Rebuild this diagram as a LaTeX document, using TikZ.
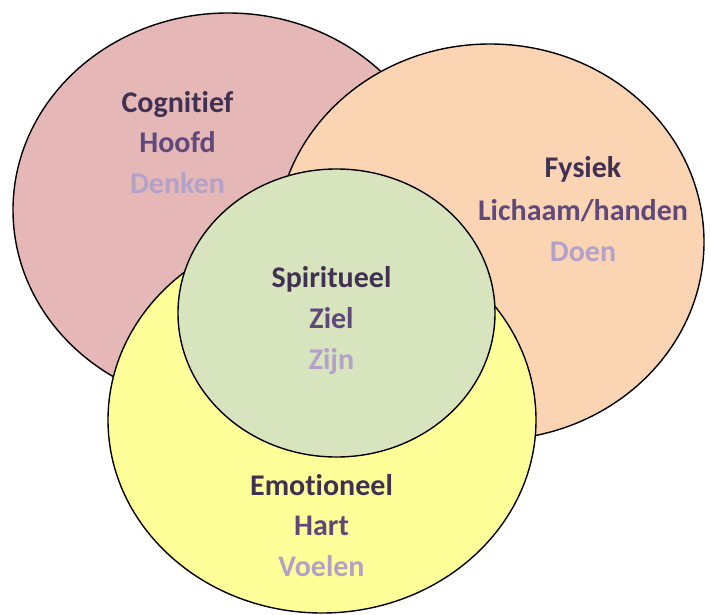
\documentclass[tikz,border=0pt]{standalone}
\usepackage{fontspec}
\setmainfont[Ligatures=NoCommon]{Carlito}
\definecolor{redfill}{HTML}{E5B7B7}
\definecolor{orangefill}{HTML}{FBD4B4}
\definecolor{yellowfill}{HTML}{FFFF99}
\definecolor{greenfill}{HTML}{D7E4BD}
\definecolor{txtdark}{HTML}{403152}
\definecolor{txtmid}{HTML}{5F497A}
\definecolor{txtlight}{HTML}{B3A2C7}
\begin{document}
\begin{tikzpicture}[x=1bp,y=-1bp,
  blob/.style={draw=black,line width=1.4bp},
  lbl/.style={anchor=base,inner sep=0pt,font=\fontsize{30bp}{36bp}\selectfont\bfseries},
  l1/.style={lbl,text=txtdark},
  l2/.style={lbl,text=txtmid},
  l3/.style={lbl,text=txtlight}]
\useasboundingbox (0,0) rectangle (711,615);
\draw[blob,fill=redfill] (228,210) ellipse [x radius=215bp, y radius=197bp];
\draw[blob,fill=orangefill] (490,242) ellipse [x radius=214bp, y radius=198bp];
\draw[blob,fill=yellowfill] (322,420) ellipse [x radius=214bp, y radius=193bp];
\draw[blob,fill=greenfill] (336.5,313) ellipse [x radius=158.5bp, y radius=144bp];
\node[l1] (cog) at (177.5,113) {Cognitief};
\node[l2] (hoofd) at (177.5,153) {Hoofd};
\node[l3] (denken) at (177.5,194) {Denken};
\node[l1] (fys) at (583,178) {Fysiek};
\node[l2] (lich) at (583,220.5) {Lichaam/handen};
\node[l3] (doen) at (583,261) {Doen};
\node[l1] (spir) at (331.5,287) {Spiritueel};
\node[l2] (ziel) at (331.5,328) {Ziel};
\node[l3] (zijn) at (331.5,369) {Zijn};
\node[l1] (emo) at (321.5,495) {Emotioneel};
\node[l2] (hart) at (321.5,535) {Hart};
\node[l3] (voelen) at (321.5,576.5) {Voelen};
\end{tikzpicture}
\end{document}
